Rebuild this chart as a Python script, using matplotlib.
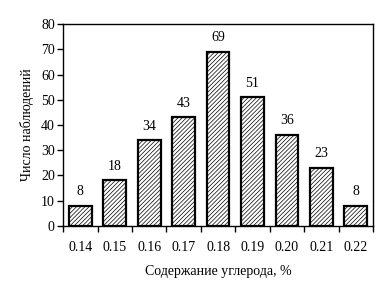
import numpy as np
import matplotlib
matplotlib.use("Agg")
import matplotlib.pyplot as plt

# carbon content categories and observation counts
categories = ["0.14", "0.15", "0.16", "0.17", "0.18", "0.19", "0.20", "0.21", "0.22"]
counts = [8, 18, 34, 43, 69, 51, 36, 23, 8]

plt.rcParams['font.family'] = ['Liberation Serif', 'DejaVu Serif']
plt.rcParams['hatch.linewidth'] = 0.5

fig = plt.figure(figsize=(3.85, 2.94), dpi=100)
ax = fig.add_axes([0.164, 0.232, 0.805, 0.686])

x = np.arange(len(categories))
bars = ax.bar(x, counts, width=0.66, color='white', edgecolor='black',
              linewidth=1.6, hatch='////////')

for xi, v in zip(x, counts):
    ax.text(xi, v + 3, str(v), ha='center', va='bottom', fontsize=10)

ax.set_xlim(-0.5, len(categories) - 0.5)
ax.set_ylim(0, 80)
ax.set_yticks(range(0, 81, 10))
ax.set_xticks(x)
ax.set_xticklabels(categories)
ax.set_xticks(np.arange(-0.5, len(categories)), minor=True)
ax.tick_params(axis='x', which='major', length=0, pad=11, labelsize=10)
ax.tick_params(axis='x', which='minor', length=4, width=1, direction='out')
ax.tick_params(axis='y', length=4, width=1, direction='out', labelsize=10, pad=2)

for s in ax.spines.values():
    s.set_linewidth(1)

ax.set_xlabel("Содержание углерода, %", fontsize=10, labelpad=8)
ax.set_ylabel("Число наблюдений", fontsize=10, labelpad=5)

fig.savefig("out.png", dpi=100)
